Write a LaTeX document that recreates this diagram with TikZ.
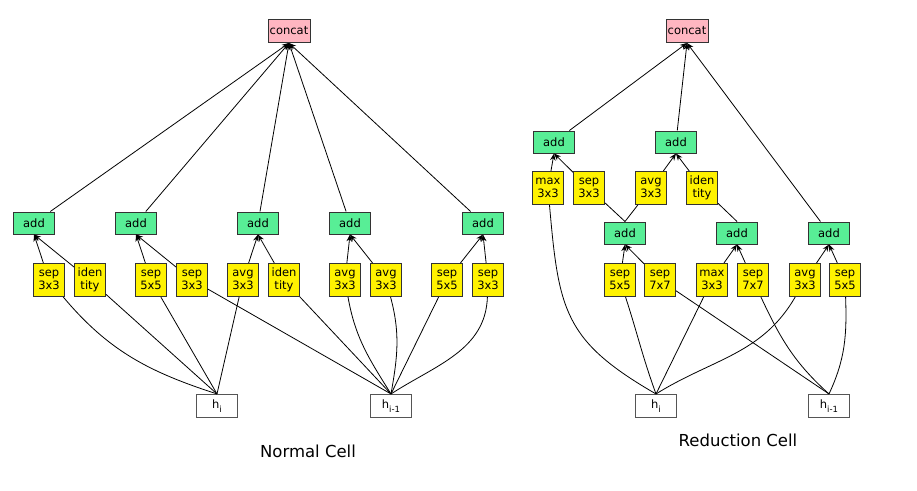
\documentclass[tikz,border=0pt]{standalone}
\usepackage{fontspec}
\setmainfont{DejaVu Sans}
\usetikzlibrary{arrows.meta}
\definecolor{addgreen}{HTML}{58EE96}
\definecolor{catpink}{HTML}{FFB6C1}
\definecolor{bordc}{HTML}{333333}
\definecolor{hbord}{HTML}{555555}
\begin{document}
\begin{tikzpicture}[x=1pt,y=-1pt,
  opbox/.style={draw=bordc, line width=1pt, fill=yellow, minimum width=31pt, minimum height=33pt, inner sep=0pt, align=center, font=\fontsize{11.5}{13.5}\selectfont},
  addbox/.style={draw=bordc, line width=1pt, fill=addgreen, minimum width=41pt, minimum height=22pt, inner sep=0pt, font=\fontsize{11.5}{13}\selectfont},
  catbox/.style={draw=bordc, line width=1pt, fill=catpink, minimum width=42pt, minimum height=23pt, inner sep=0pt, font=\fontsize{11.5}{13}\selectfont},
  hbox/.style={draw=hbord, line width=1.1pt, fill=white, minimum width=41pt, minimum height=23pt, inner sep=0pt, font=\fontsize{11.5}{13}\selectfont},
  edge/.style={draw=black, line width=0.8pt},
  arr/.style={edge, -{Stealth[length=7pt,width=5.5pt]}},
  title/.style={font=\fontsize{16.5}{19}\selectfont}
]
\path[use as bounding box] (0,0) rectangle (917,490);

% ---------- Normal cell ----------
\node[catbox] (cL) at (289,31) {concat};
\node[addbox] (aL1) at (34,223) {add};
\node[addbox] (aL2) at (136,223) {add};
\node[addbox] (aL3) at (258,223) {add};
\node[addbox] (aL4) at (350,223) {add};
\node[addbox] (aL5) at (483,223) {add};
\node[opbox] (oL1) at (49,280) {sep\\3x3};
\node[opbox] (oL2) at (90,280) {iden\\tity};
\node[opbox] (oL3) at (151,280) {sep\\5x5};
\node[opbox] (oL4) at (192,280) {sep\\3x3};
\node[opbox] (oL5) at (243,280) {avg\\3x3};
\node[opbox] (oL6) at (284,280) {iden\\tity};
\node[opbox] (oL7) at (345,280) {avg\\3x3};
\node[opbox] (oL8) at (386,280) {avg\\3x3};
\node[opbox] (oL9) at (447,280) {sep\\5x5};
\node[opbox] (oL10) at (488,280) {sep\\3x3};
\node[hbox] (hL) at (217,406) {h\raisebox{-0.7ex}{\fontsize{8.5}{8.5}\selectfont i}};
\node[hbox] (hL1) at (391,406) {h\raisebox{-0.7ex}{\fontsize{8.5}{8.5}\selectfont i-1}};
\node[title] (tL) at (308,451) {Normal Cell};

\draw[edge] (hL.north) to[out=162,in=-50] (oL1);
\draw[edge] (hL.north) -- (oL2);
\draw[edge] (hL.north) -- (oL3);
\draw[edge] (hL.north) -- (oL5);
\draw[edge] (hL1.north) -- (oL4);
\draw[edge] (hL1.north) -- (oL6);
\draw[edge] (hL1.north) to[out=122,in=-80] (oL7);
\draw[edge] (hL1.north) to[out=80,in=-75] (oL8);
\draw[edge] (hL1.north) -- (oL9);
\draw[edge] (hL1.north) to[out=33,in=-92] (oL10);

\draw[arr] (oL1) -- (aL1.south);
\draw[arr] (oL2) -- (aL1.south);
\draw[arr] (oL3) -- (aL2.south);
\draw[arr] (oL4) -- (aL2.south);
\draw[arr] (oL5) -- (aL3.south);
\draw[arr] (oL6) -- (aL3.south);
\draw[arr] (oL7) -- (aL4.south);
\draw[arr] (oL8) -- (aL4.south);
\draw[arr] (oL9) -- (aL5.south);
\draw[arr] (oL10) -- (aL5.south);
\foreach \a in {aL1,aL2,aL3,aL4,aL5} {\draw[arr] (\a) -- (cL.south);}

% ---------- Reduction cell ----------
\node[catbox] (cR) at (687,31) {concat};
\node[addbox] (aR1) at (554,142) {add};
\node[addbox] (aR2) at (676,142) {add};
\node[opbox] (oR1) at (548,188) {max\\3x3};
\node[opbox] (oR2) at (589,188) {sep\\3x3};
\node[opbox] (oR3) at (651,188) {avg\\3x3};
\node[opbox] (oR4) at (702,188) {iden\\tity};
\node[addbox] (aR3) at (625,233) {add};
\node[addbox] (aR4) at (737,233) {add};
\node[addbox] (aR5) at (829,233) {add};
\node[opbox] (oR5) at (620,280) {sep\\5x5};
\node[opbox] (oR6) at (660,280) {sep\\7x7};
\node[opbox] (oR7) at (712,280) {max\\3x3};
\node[opbox] (oR8) at (753,280) {sep\\7x7};
\node[opbox] (oR9) at (805,280) {avg\\3x3};
\node[opbox] (oR10) at (845,280) {sep\\5x5};
\node[hbox] (hR) at (656,406) {h\raisebox{-0.7ex}{\fontsize{8.5}{8.5}\selectfont i}};
\node[hbox] (hR1) at (829,406) {h\raisebox{-0.7ex}{\fontsize{8.5}{8.5}\selectfont i-1}};
\node[title] (tR) at (738,440) {Reduction Cell};

\draw[edge] (hR.north) to[out=150,in=-85,looseness=1.25] (oR1);
\draw[edge] (hR.north) to[out=110,in=-72] (oR5);
\draw[edge] (hR.north) -- (oR7);
\draw[edge] (hR.north) to[out=32,in=-120] (oR9);
\draw[edge] (hR1.north) -- (oR6);
\draw[edge] (hR1.north) to[out=138,in=-65] (oR8);
\draw[edge] (hR1.north) to[out=65,in=-88] (oR10);
\draw[edge] (aR3.north) -- (oR2);
\draw[edge] (aR3.north) -- (oR3);
\draw[edge] (aR4.north) -- (oR4);

\draw[arr] (oR5) -- (aR3.south);
\draw[arr] (oR6) -- (aR3.south);
\draw[arr] (oR7) -- (aR4.south);
\draw[arr] (oR8) -- (aR4.south);
\draw[arr] (oR9) -- (aR5.south);
\draw[arr] (oR10) -- (aR5.south);
\draw[arr] (oR1) -- (aR1.south);
\draw[arr] (oR2) -- (aR1.south);
\draw[arr] (oR3) -- (aR2.south);
\draw[arr] (oR4) -- (aR2.south);
\foreach \a in {aR1,aR2,aR5} {\draw[arr] (\a) -- (cR.south);}
\end{tikzpicture}
\end{document}
